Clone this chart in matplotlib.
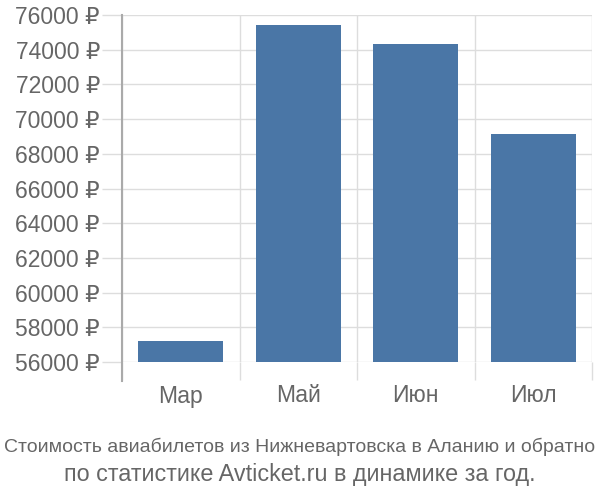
import matplotlib
matplotlib.use("Agg")
import matplotlib.pyplot as plt
import numpy as np

categories = ["Мар", "Май", "Июн", "Июл"]
values = [57200, 75400, 74350, 69150]
yticks = list(range(56000, 76001, 2000))
ytick_labels = [f"{v} ₽" for v in yticks]
title_lines = ["Стоимость авиабилетов из Нижневартовска в Аланию и обратно",
               "по статистике Avticket.ru в динамике за год."]

plt.rcParams['font.family'] = ['Liberation Sans', 'DejaVu Sans']

fig = plt.figure(figsize=(6, 5), dpi=100)
ax = fig.add_axes([122/600, 1-362/500, (592-122)/600, (362-15)/500])

x = np.arange(len(categories))
ax.bar(x, values, width=0.72, color="#4a76a6", zorder=3)
ax.set_xlim(-0.5, len(categories)-0.5)
ax.set_ylim(56000, 76000)

ax.set_yticks(yticks)
ax.set_yticklabels(ytick_labels, fontsize=16.5, color="#666666")
ax.tick_params(axis='y', length=14.4, color="#dddddd", width=1, pad=1.5)
ax.yaxis.grid(True, color="#dddddd", linewidth=1, zorder=0)

bounds = np.arange(len(categories)+1) - 0.5
ax.set_xticks(bounds)
ax.set_xticklabels([""]*len(bounds))
ax.tick_params(axis='x', length=13, color="#dddddd", width=1)
ax.xaxis.grid(True, color="#dddddd", linewidth=1, zorder=0)
for xi, lab in zip(x, categories):
    ax.text(xi, -34/347, lab, transform=ax.get_xaxis_transform(), ha='center', va='center',
            fontsize=16.5, color="#666666")

for s in ["top", "right", "bottom", "left"]:
    ax.spines[s].set_visible(False)
ax.plot([-0.5, -0.5], [-19/347, 1], transform=ax.get_xaxis_transform(), color="#aaaaaa",
        lw=1.5, clip_on=False, zorder=5)

fig.text(0.5, 1-447/500, title_lines[0], ha='center', va='center', fontsize=14,
         color="#666666")
fig.text(0.5, 1-474/500, title_lines[1], ha='center', va='center', fontsize=16.8,
         color="#666666")

fig.savefig("out.png", dpi=100)
